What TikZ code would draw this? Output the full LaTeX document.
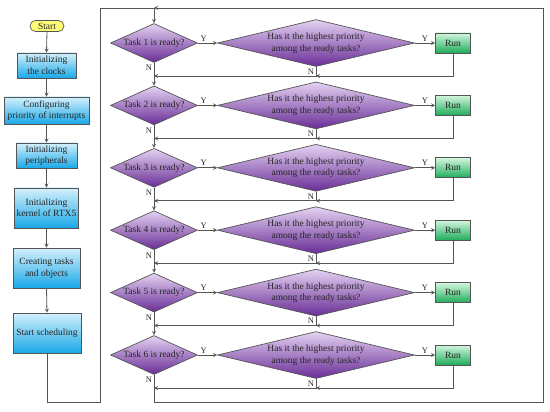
\documentclass[tikz,border=0pt]{standalone}
\usepackage{fontspec}
\setmainfont{Liberation Serif}
\usepackage{xcolor}
\usepackage{tikz}
\usetikzlibrary{shapes,arrows,positioning}

\definecolor{linegray}{RGB}{85,85,85}
\definecolor{boxtop}{RGB}{212,240,252}
\definecolor{boxbot}{RGB}{25,168,232}
\definecolor{diatop}{RGB}{228,210,242}
\definecolor{diabot}{RGB}{105,45,150}
\definecolor{runtop}{RGB}{212,246,222}
\definecolor{runbot}{RGB}{30,172,90}
\definecolor{startfill}{RGB}{255,252,120}

\begin{document}
\begin{tikzpicture}[
    x=1pt, y=-1pt,
    every node/.style={font=\fontsize{9.5}{11.5}\selectfont, text=black!85},
    box/.style={draw=linegray, rectangle, line width=0.7pt, top color=boxtop, bottom color=boxbot, align=center, inner sep=2pt},
    startbox/.style={draw=linegray, rectangle, rounded corners=5.5pt, line width=0.7pt, fill=startfill, minimum width=34pt, minimum height=11pt, inner sep=1pt},
    task/.style={draw=linegray, diamond, line width=0.7pt, top color=diatop, bottom color=diabot, inner sep=0pt, shape aspect=2.2, minimum width=87pt, minimum height=39pt},
    prio/.style={draw=linegray, diamond, line width=0.7pt, top color=diatop, bottom color=diabot, inner sep=0pt, shape aspect=4.2, minimum width=197pt, minimum height=47pt, align=center},
    run/.style={draw=linegray, rectangle, line width=0.7pt, top color=runtop, bottom color=runbot, minimum width=35pt, minimum height=20pt, inner sep=1pt},
    lbl/.style={font=\fontsize{8.5}{9}\selectfont, inner sep=1.5pt},
    line/.style={draw=linegray, line width=0.8pt},
    arr/.style={->, >=stealth, draw=linegray, line width=0.8pt}
]
\useasboundingbox (0,0) rectangle (550,412);

% Initialization column
\node[startbox] (start) at (47,26) {Start};
\node[box, minimum width=59pt, minimum height=25pt] (s1) at (46.5,65.5) {Initializing\\the clocks};
\node[box, minimum width=85pt, minimum height=27pt] (s2) at (46.5,110.5) {Configuring\\priority of interrupts};
\node[box, minimum width=61pt, minimum height=25pt] (s3) at (46.5,155.5) {Initializing\\peripherals};
\node[box, minimum width=63pt, minimum height=40pt] (s4) at (46.5,208) {Initializing\\kernel of RTX5};
\node[box, minimum width=67pt, minimum height=40pt] (s5) at (46.5,268) {Creating tasks\\and objects};
\node[box, minimum width=68pt, minimum height=40pt] (s6) at (47,333) {Start scheduling};

\draw[arr] (start.south) -- (s1.north);
\draw[arr] (s1.south) -- (s2.north);
\draw[arr] (s2.south) -- (s3.north);
\draw[arr] (s3.south) -- (s4.north);
\draw[arr] (s4.south) -- (s5.north);
\draw[arr] (s5.south) -- (s6.north);

% Frame corners
\coordinate (top) at (154,8);
\coordinate (tl) at (100,8);
\coordinate (tr) at (543,8);
\coordinate (bl) at (100,402);
\coordinate (br) at (543,402);
\coordinate (b6) at (154,402);

% Task 1
\node[task] (t1) at (154,43) {Task 1 is ready?};
\node[prio] (h1) at (316,43) {Has it the highest priority\\among the ready tasks?};
\node[run]  (r1) at (453,43) {Run};
\coordinate (m1) at (316,76);
\coordinate (j1) at (154,76);

% Task 2
\node[task] (t2) at (154,105.4) {Task 2 is ready?};
\node[prio] (h2) at (316,105.4) {Has it the highest priority\\among the ready tasks?};
\node[run]  (r2) at (453,105.4) {Run};
\coordinate (m2) at (316,138.4);
\coordinate (j2) at (154,138.4);

% Task 3
\node[task] (t3) at (154,167.8) {Task 3 is ready?};
\node[prio] (h3) at (316,167.8) {Has it the highest priority\\among the ready tasks?};
\node[run]  (r3) at (453,167.8) {Run};
\coordinate (m3) at (316,200.8);
\coordinate (j3) at (154,200.8);

% Task 4
\node[task] (t4) at (154,230.2) {Task 4 is ready?};
\node[prio] (h4) at (316,230.2) {Has it the highest priority\\among the ready tasks?};
\node[run]  (r4) at (453,230.2) {Run};
\coordinate (m4) at (316,263.2);
\coordinate (j4) at (154,263.2);

% Task 5
\node[task] (t5) at (154,292.6) {Task 5 is ready?};
\node[prio] (h5) at (316,292.6) {Has it the highest priority\\among the ready tasks?};
\node[run]  (r5) at (453,292.6) {Run};
\coordinate (m5) at (316,325.6);
\coordinate (j5) at (154,325.6);

% Task 6
\node[task] (t6) at (154,355) {Task 6 is ready?};
\node[prio] (h6) at (316,355) {Has it the highest priority\\among the ready tasks?};
\node[run]  (r6) at (453,355) {Run};
\coordinate (m6) at (316,388);
\coordinate (j6) at (154,388);

% Yes branches
\draw[arr] (t1.east) -- node[pos=0.3, above, lbl] {Y} (h1.west);
\draw[arr] (h1.east) -- node[midway, above, lbl] {Y} (r1.west);
\draw[arr] (t2.east) -- node[pos=0.3, above, lbl] {Y} (h2.west);
\draw[arr] (h2.east) -- node[midway, above, lbl] {Y} (r2.west);
\draw[arr] (t3.east) -- node[pos=0.3, above, lbl] {Y} (h3.west);
\draw[arr] (h3.east) -- node[midway, above, lbl] {Y} (r3.west);
\draw[arr] (t4.east) -- node[pos=0.3, above, lbl] {Y} (h4.west);
\draw[arr] (h4.east) -- node[midway, above, lbl] {Y} (r4.west);
\draw[arr] (t5.east) -- node[pos=0.3, above, lbl] {Y} (h5.west);
\draw[arr] (h5.east) -- node[midway, above, lbl] {Y} (r5.west);
\draw[arr] (t6.east) -- node[pos=0.3, above, lbl] {Y} (h6.west);
\draw[arr] (h6.east) -- node[midway, above, lbl] {Y} (r6.west);

% Return paths and No branches
\draw[arr] (r1.south) |- (m1);
\draw[arr] (h1.south) -- node[midway, left, lbl] {N} (m1) -- (j1);
\draw[line] (t1.south) -- node[pos=0.4, left, lbl] {N} (j1);
\draw[arr] (j1) -- (t2.north);

\draw[arr] (r2.south) |- (m2);
\draw[arr] (h2.south) -- node[midway, left, lbl] {N} (m2) -- (j2);
\draw[line] (t2.south) -- node[pos=0.4, left, lbl] {N} (j2);
\draw[arr] (j2) -- (t3.north);

\draw[arr] (r3.south) |- (m3);
\draw[arr] (h3.south) -- node[midway, left, lbl] {N} (m3) -- (j3);
\draw[line] (t3.south) -- node[pos=0.4, left, lbl] {N} (j3);
\draw[arr] (j3) -- (t4.north);

\draw[arr] (r4.south) |- (m4);
\draw[arr] (h4.south) -- node[midway, left, lbl] {N} (m4) -- (j4);
\draw[line] (t4.south) -- node[pos=0.4, left, lbl] {N} (j4);
\draw[arr] (j4) -- (t5.north);

\draw[arr] (r5.south) |- (m5);
\draw[arr] (h5.south) -- node[midway, left, lbl] {N} (m5) -- (j5);
\draw[line] (t5.south) -- node[pos=0.4, left, lbl] {N} (j5);
\draw[arr] (j5) -- (t6.north);

\draw[arr] (r6.south) |- (m6);
\draw[arr] (h6.south) -- node[midway, left, lbl] {N} (m6) -- (j6);
\draw[line] (t6.south) -- node[pos=0.4, left, lbl] {N} (j6);

% Scheduler loop
\draw[arr] (j6) -- (b6) -- (br) -- (tr) -- (top);
\draw[line] (s6.south) |- (bl) -- (tl) -- (top);
\draw[arr] (top) -- (t1.north);

\end{tikzpicture}
\end{document}
